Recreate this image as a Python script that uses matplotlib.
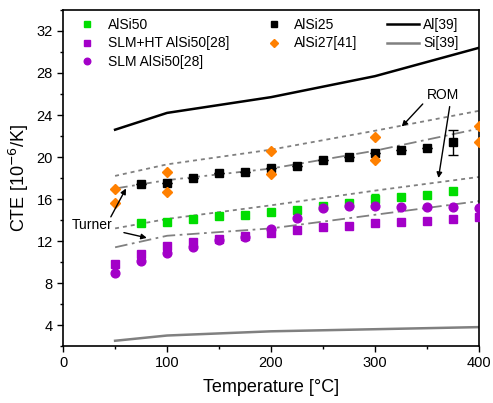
import numpy as np
import matplotlib
matplotlib.use('Agg')
import matplotlib.pyplot as plt
from matplotlib.ticker import MultipleLocator

plt.rcParams['font.family'] = ['Liberation Sans', 'DejaVu Sans']

# measured data
t_alsi25 = [75, 100, 125, 150, 175, 200, 225, 250, 275, 300, 325, 350, 375]
cte_alsi25 = [17.4, 17.5, 18.0, 18.5, 18.6, 19.0, 19.1, 19.7, 20.0, 20.4, 20.7, 20.9, 21.4]
err_alsi25 = [0, 0, 0, 0, 0, 0, 0, 0, 0, 0, 0, 0, 1.2]

t_alsi50 = [75, 100, 125, 150, 175, 200, 225, 250, 275, 300, 325, 350, 375]
cte_alsi50 = [13.7, 13.8, 14.1, 14.4, 14.5, 14.8, 14.95, 15.3, 15.6, 16.0, 16.2, 16.4, 16.8]
err_alsi50 = [0, 0, 0, 0, 0, 0, 0, 0, 0, 0.45, 0, 0, 0]

t_alsi27 = [50, 50, 100, 100, 200, 200, 300, 300, 400, 400]
cte_alsi27 = [17.0, 15.6, 18.6, 16.7, 20.6, 18.4, 21.9, 19.7, 23.0, 21.4]

t_slm = [50, 75, 100, 125, 150, 175, 200, 225, 250, 275, 300, 325, 350, 375, 400]
cte_slm_ht = [9.8, 10.8, 11.5, 11.9, 12.2, 12.5, 12.8, 13.05, 13.3, 13.45, 13.7, 13.8, 13.9, 14.1, 14.3]
cte_slm = [9.0, 10.1, 10.9, 11.4, 12.1, 12.4, 13.1, 14.2, 15.1, 15.3, 15.3, 15.2, 15.2, 15.2, 15.1]

# reference / model curves
t_ref = [50, 100, 200, 300, 400]
cte_al = [22.6, 24.2, 25.7, 27.7, 30.4]
cte_si = [2.5, 3.0, 3.4, 3.6, 3.8]
rom_alsi25 = [18.2, 19.3, 20.7, 22.5, 24.4]
turner_alsi25 = [17.0, 17.8, 18.9, 20.6, 22.7]
rom_alsi50 = [13.2, 14.1, 15.4, 16.8, 18.1]
turner_alsi50 = [11.4, 12.5, 13.2, 14.5, 15.8]

green = '#00DD00'
purple = '#A300C8'
orange = '#FF8000'
gray = '#808080'

fig = plt.figure(figsize=(4.93, 4.03), dpi=100)
ax = fig.add_axes([0.128, 0.1414, 0.8436, 0.8338])

dot = (0, (2.2, 2.2))
dashdot = (0, (7, 2.5, 1.5, 2.5))
ax.plot(t_ref, rom_alsi25, color=gray, lw=1.3, ls=dot, zorder=1)
ax.plot(t_ref, turner_alsi25, color=gray, lw=1.3, ls=dashdot, zorder=1)
ax.plot(t_ref, rom_alsi50, color=gray, lw=1.3, ls=dot, zorder=1)
ax.plot(t_ref, turner_alsi50, color=gray, lw=1.3, ls=dashdot, zorder=1)

ms = 6.3
ax.errorbar(t_alsi50, cte_alsi50, yerr=err_alsi50, fmt='none', ecolor=green,
            capsize=3, elinewidth=1, zorder=3)
ax.errorbar(t_alsi25, cte_alsi25, yerr=err_alsi25, fmt='none', ecolor='black',
            capsize=3.5, elinewidth=1, zorder=3)
h1, = ax.plot(t_alsi50, cte_alsi50, 's', color=green, ms=ms, label='AlSi50', zorder=3)
h2, = ax.plot(t_slm, cte_slm_ht, 's', color=purple, ms=ms, label='SLM+HT AlSi50[28]', zorder=3)
h3, = ax.plot(t_slm, cte_slm, 'o', color=purple, ms=ms, label='SLM AlSi50[28]', zorder=3)
h4, = ax.plot(t_alsi25, cte_alsi25, 's', color='black', ms=ms, label='AlSi25', zorder=3)
h5, = ax.plot(t_alsi27, cte_alsi27, 'D', color=orange, ms=5.5, label='AlSi27[41]', zorder=3)
h6, = ax.plot(t_ref, cte_al, color='black', lw=1.8, label='Al[39]', zorder=2)
h7, = ax.plot(t_ref, cte_si, color=gray, lw=1.8, label='Si[39]', zorder=2)

arrow = dict(arrowstyle='-|>', color='black', lw=1, shrinkA=0, shrinkB=0, mutation_scale=8)
ax.text(365, 25.9, 'ROM', ha='center', va='center', fontsize=10)
ax.annotate('', xy=(325.7, 22.9), xytext=(345.9, 25.05), arrowprops=arrow)
ax.annotate('', xy=(361, 18.0), xytext=(371.8, 24.8), arrowprops=arrow)
ax.text(28, 13.5, 'Turner', ha='center', va='center', fontsize=10)
ax.annotate('', xy=(60.5, 17.0), xytext=(45.9, 14.3), arrowprops=arrow)
ax.annotate('', xy=(80.5, 12.3), xytext=(58.5, 12.8), arrowprops=arrow)

ax.set_xlim(0, 400)
ax.set_ylim(2, 34)
ax.xaxis.set_major_locator(MultipleLocator(100))
ax.xaxis.set_minor_locator(MultipleLocator(50))
ax.yaxis.set_minor_locator(MultipleLocator(2))
ax.set_yticks([4, 8, 12, 16, 20, 24, 28, 32])
ax.tick_params(which='major', direction='out', length=4, width=1, labelsize=10.5)
ax.tick_params(which='minor', direction='out', length=2.5, width=1)
for s in ax.spines.values():
    s.set_linewidth(1.2)

ax.set_xlabel('Temperature [°C]', fontsize=13, labelpad=6)
ax.set_ylabel('CTE [10$^{-6}$/K]', fontsize=13, labelpad=4)

ax.legend(handles=[h1, h2, h3, h4, h5, h6, h7], ncol=3, loc='upper left',
          bbox_to_anchor=(0.0, 1.0), frameon=False, fontsize=10,
          handlelength=2.3, handletextpad=0.3, columnspacing=2.1,
          labelspacing=0.3, markerscale=0.75, borderaxespad=0.2)

fig.savefig('out.png', dpi=100)
